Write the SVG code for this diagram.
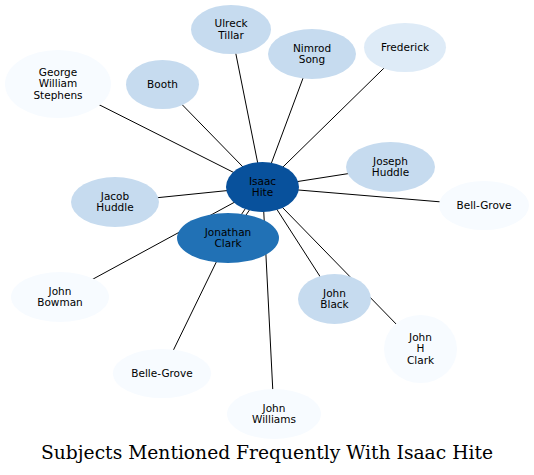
<svg xmlns="http://www.w3.org/2000/svg" width="534" height="475" viewBox="0 0 534 475">
<style>
.e line{stroke:#000;stroke-width:1;fill:none}
.n text{font-family:"DejaVu Sans",sans-serif;font-size:10.5px;text-anchor:middle;fill:#000}
.c1{fill:#c6dbef}
.c0{fill:#f7fbff}
.c2{fill:#deebf7}
.title{font-family:"DejaVu Serif",serif;font-size:18.5px;fill:#000}
</style>
<rect width="534" height="475" fill="#fff"/>
<g id="connectors" class="e">
<line x1="262.5" y1="187" x2="231" y2="29.5"/>
<line x1="262.5" y1="187" x2="58" y2="84"/>
<line x1="262.5" y1="187" x2="162.5" y2="84.5"/>
<line x1="262.5" y1="187" x2="312" y2="54"/>
<line x1="262.5" y1="187" x2="405" y2="47.5"/>
<line x1="262.5" y1="187" x2="390.5" y2="167"/>
<line x1="262.5" y1="187" x2="484" y2="205.5"/>
<line x1="262.5" y1="187" x2="115" y2="202"/>
<line x1="264.2" y1="188.2" x2="229.7" y2="239.2"/>
<line x1="260.8" y1="185.8" x2="226.3" y2="236.8"/>
<line x1="262.5" y1="187" x2="60" y2="297"/>
<line x1="262.5" y1="187" x2="274" y2="414"/>
<line x1="262.5" y1="187" x2="334.5" y2="299"/>
<line x1="262.5" y1="187" x2="420.5" y2="349"/>
<line x1="228" y1="238" x2="162" y2="373.5"/>
</g>
<g id="n-ulreck" class="n"><ellipse class="c1" cx="231" cy="29.5" rx="40" ry="24.5"/><text x="231" y="27">Ulreck</text><text x="231" y="38.5">Tillar</text></g>
<g id="n-george" class="n"><ellipse class="c0" cx="58" cy="84" rx="53" ry="34"/><text x="58" y="75.5">George</text><text x="58" y="87">William</text><text x="58" y="98.5">Stephens</text></g>
<g id="n-booth" class="n"><ellipse class="c1" cx="162.5" cy="84.5" rx="36.5" ry="24.5"/><text x="162.5" y="88">Booth</text></g>
<g id="n-nimrod" class="n"><ellipse class="c1" cx="312" cy="54" rx="44" ry="25"/><text x="312" y="51.5">Nimrod</text><text x="312" y="63">Song</text></g>
<g id="n-frederick" class="n"><ellipse class="c2" cx="405" cy="47.5" rx="41" ry="24.5"/><text x="405" y="51">Frederick</text></g>
<g id="n-joseph" class="n"><ellipse class="c1" cx="390.5" cy="167" rx="44.5" ry="25"/><text x="390.5" y="164.5">Joseph</text><text x="390.5" y="176">Huddle</text></g>
<g id="n-bellgrove" class="n"><ellipse class="c0" cx="484" cy="205.5" rx="45" ry="24.5"/><text x="484" y="209">Bell-Grove</text></g>
<g id="n-jacob" class="n"><ellipse class="c1" cx="115" cy="202" rx="44" ry="25"/><text x="115" y="199.5">Jacob</text><text x="115" y="211">Huddle</text></g>
<g id="n-bowman" class="n"><ellipse class="c0" cx="60" cy="297" rx="49" ry="25"/><text x="60" y="294.5">John</text><text x="60" y="306">Bowman</text></g>
<g id="n-bellegrove" class="n"><ellipse class="c0" cx="162" cy="373.5" rx="49" ry="24.5"/><text x="162" y="377">Belle-Grove</text></g>
<g id="n-williams" class="n"><ellipse class="c0" cx="274" cy="414" rx="47" ry="25"/><text x="274" y="411.5">John</text><text x="274" y="423">Williams</text></g>
<g id="n-black" class="n"><ellipse class="c1" cx="334.5" cy="299" rx="36.5" ry="25"/><text x="334.5" y="296.5">John</text><text x="334.5" y="308">Black</text></g>
<g id="n-jhclark" class="n"><ellipse class="c0" cx="420.5" cy="349" rx="36.5" ry="34"/><text x="420.5" y="340.5">John</text><text x="420.5" y="352">H</text><text x="420.5" y="363.5">Clark</text></g>
<g id="n-jonathan" class="n"><ellipse fill="#2171b5" cx="228" cy="238" rx="51" ry="25"/><text x="228" y="235.5">Jonathan</text><text x="228" y="247">Clark</text></g>
<g id="n-isaac" class="n"><ellipse fill="#08519c" cx="262.5" cy="187" rx="36.5" ry="25"/><text x="262.5" y="184.5">Isaac</text><text x="262.5" y="196">Hite</text></g>
<text class="title" x="41" y="459" textLength="452" lengthAdjust="spacingAndGlyphs">Subjects Mentioned Frequently With Isaac Hite</text>
</svg>
